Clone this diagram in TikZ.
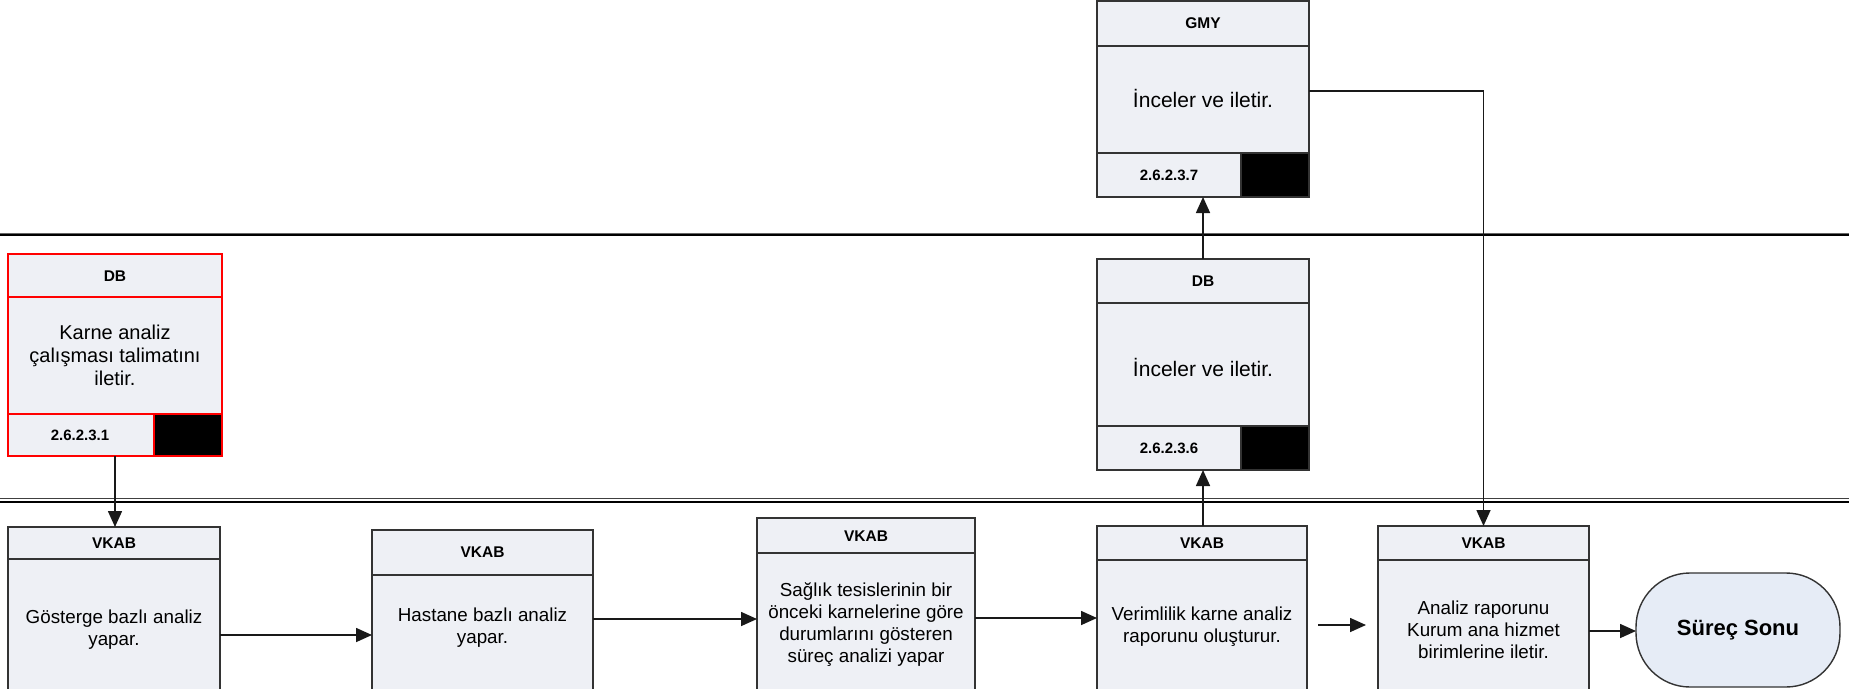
\documentclass[tikz,border=0pt]{standalone}
\usepackage{fontspec}
\setmainfont{Liberation Sans}
\usetikzlibrary{arrows.meta,calc}
\definecolor{boxfill}{HTML}{EEF0F5}
\definecolor{termfill}{HTML}{E6ECF6}
\definecolor{edgec}{HTML}{333333}
\begin{document}
\begin{tikzpicture}[x=1pt,y=-1pt,
  pbox/.style={draw=edgec, fill=boxfill, line width=1.4pt, inner sep=0pt, outer sep=0pt, anchor=north west},
  rbox/.style={pbox, draw=red},
  sepline/.style={draw=edgec, line width=1.4pt},
  rsepline/.style={draw=red, line width=1.4pt},
  hdr/.style={font=\fontsize{15.5}{17}\selectfont\bfseries, inner sep=0pt},
  numtxt/.style={font=\fontsize{15}{17}\selectfont\bfseries, inner sep=0pt},
  bodytxt/.style={align=center, inner sep=0pt, font=\fontsize{18.8}{22}\selectfont},
  bigtxt/.style={align=center, inner sep=0pt, font=\fontsize{21}{24}\selectfont},
  arr/.style={draw=black!90, line width=1.6pt, -{Triangle[length=16pt,width=14pt]}}]
\useasboundingbox (0,0) rectangle (1849,688);
\clip (0,0) rectangle (1849,688);
\fill[white] (0,0) rectangle (1849,688);

% lanes
\draw[black!60, line width=1pt] (0,233.2) -- (1849,233.2);
\draw[line width=2pt] (0,234.8) -- (1849,234.8);
\draw[black!75, line width=1.5pt] (0,498.6) -- (1849,498.6);
\draw[line width=2pt] (0,501.8) -- (1849,501.8);

% DB (red)
\node[rbox, minimum width=214pt, minimum height=202pt] (db1) at (8,254) {};
\draw[rsepline] (db1.west |- 0,297) -- (db1.east |- 0,297);
\draw[rsepline] (db1.west |- 0,414) -- (db1.east |- 0,414);
\draw[rsepline, fill=black] (154,414) rectangle (db1.south east);
\node[hdr] (db1h) at (115,276) {DB};
\node[bodytxt, font=\fontsize{20}{23}\selectfont] (db1t) at (115,355) {Karne analiz\\çalışması talimatını\\iletir.};
\node[numtxt] (db1c) at (80,435) {2.6.2.3.1};

% GMY
\node[pbox, minimum width=212pt, minimum height=196pt] (gmy) at (1097,1) {};
\draw[sepline] (gmy.west |- 0,46) -- (gmy.east |- 0,46);
\draw[sepline] (gmy.west |- 0,153) -- (gmy.east |- 0,153);
\draw[sepline, fill=black] (1241,153) rectangle (gmy.south east);
\node[hdr] (gmyh) at (1203,23) {GMY};
\node[bigtxt] (gmyt) at (1203,98) {İnceler ve iletir.};
\node[numtxt] (gmyc) at (1169,175) {2.6.2.3.7};

% DB 2
\node[pbox, minimum width=212pt, minimum height=211pt] (db2) at (1097,259) {};
\draw[sepline] (db2.west |- 0,303) -- (db2.east |- 0,303);
\draw[sepline] (db2.west |- 0,426) -- (db2.east |- 0,426);
\draw[sepline, fill=black] (1241,426) rectangle (db2.south east);
\node[hdr] (db2h) at (1203,281) {DB};
\node[bigtxt] (db2t) at (1203,367) {İnceler ve iletir.};
\node[numtxt] (db2c) at (1169,448) {2.6.2.3.6};

% VKAB boxes
\node[pbox, minimum width=212pt, minimum height=200pt] (p1) at (8,527) {};
\draw[sepline] (p1.west |- 0,559) -- (p1.east |- 0,559);
\node[hdr] (p1h) at (114,543) {VKAB};
\node[bodytxt] (p1t) at (114,630) {Gösterge bazlı analiz\\yapar.};

\node[pbox, minimum width=221pt, minimum height=200pt] (p2) at (372,530) {};
\draw[sepline] (p2.west |- 0,575) -- (p2.east |- 0,575);
\node[hdr] (p2h) at (482.5,552) {VKAB};
\node[bodytxt] (p2t) at (482.5,628) {Hastane bazlı analiz\\yapar.};

\node[pbox, minimum width=218pt, minimum height=200pt] (p3) at (757,518) {};
\draw[sepline] (p3.west |- 0,553) -- (p3.east |- 0,553);
\node[hdr] (p3h) at (866,536) {VKAB};
\node[bodytxt] (p3t) at (866,625) {Sağlık tesislerinin bir\\önceki karnelerine göre\\durumlarını gösteren\\süreç analizi yapar};

\node[pbox, minimum width=210pt, minimum height=200pt] (p4) at (1097,526) {};
\draw[sepline] (p4.west |- 0,560) -- (p4.east |- 0,560);
\node[hdr] (p4h) at (1202,543) {VKAB};
\node[bodytxt] (p4t) at (1202,627) {Verimlilik karne analiz\\raporunu oluşturur.};

\node[pbox, minimum width=211pt, minimum height=200pt] (p5) at (1378,526) {};
\draw[sepline] (p5.west |- 0,560) -- (p5.east |- 0,560);
\node[hdr] (p5h) at (1483.5,543) {VKAB};
\node[bodytxt] (p5t) at (1483.5,630) {Analiz raporunu\\Kurum ana hizmet\\birimlerine iletir.};

% terminal
\node[draw=edgec, fill=termfill, line width=1.4pt, rounded corners=54pt, minimum width=204pt, minimum height=114pt, inner sep=0pt, outer sep=0pt, font=\fontsize{22}{24}\selectfont\bfseries] (term) at (1738,630) {Süreç Sonu};

% connectors
\draw[arr] (db1.south) -- (db1.south |- p1.north);
\draw[arr] (p1.east |- 0,635) -- (p2.west |- 0,635);
\draw[arr] (p2.east |- 0,619) -- (p3.west |- 0,619);
\draw[arr] (p3.east |- 0,618) -- (p4.west |- 0,618);
\coordinate (f1) at (1318,625);
\coordinate (f2) at (1366,625);
\draw[arr] (f1) -- (f2);
\draw[arr] (p5.east |- 0,631) -- (term.west |- 0,631);
\draw[arr] (db2.south |- p4.north) -- (db2.south);
\draw[arr] (db2.north) -- (gmy.south);
\draw[arr] (gmy.east |- 0,91) -| (p5.north);
\end{tikzpicture}
\end{document}
